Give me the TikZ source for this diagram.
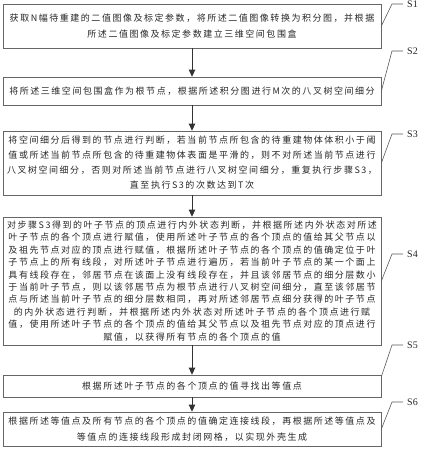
\documentclass[tikz,border=0pt]{standalone}
\usepackage{fontspec}
\setmainfont{Liberation Serif}
\newfontfamily\cjk[LetterSpace=17]{Noto Sans CJK SC}
\usetikzlibrary{arrows.meta}
\begin{document}
\begin{tikzpicture}[x=1pt,y=-1pt,
  stepbox/.style={draw=black!60, line width=0.7pt, minimum width=378pt, inner sep=0pt, align=center, text=black!85},
  flow/.style={-{Triangle[length=7pt,width=6.5pt]}, line width=0.9pt, draw=black!80},
  lead/.style={draw=black!65, line width=0.6pt},
  lab/.style={anchor=west, font=\fontsize{10}{12}\selectfont, inner sep=0pt, text=black!85}]
\useasboundingbox (0,0) rectangle (425,450);

\node[stepbox, minimum height=44pt, font=\cjk\fontsize{9}{16}\selectfont] (s1) at (192,26)
  {获取N幅待重建的二值图像及标定参数，将所述二值图像转换为积分图，并根据\\
   所述二值图像及标定参数建立三维空间包围盒};
\node[stepbox, minimum height=28pt, font=\cjk\fontsize{9}{14}\selectfont] (s2) at (192,91)
  {将所述三维空间包围盒作为根节点，根据所述积分图进行M次的八叉树空间细分};
\node[stepbox, minimum height=64pt, font=\cjk\fontsize{9}{15}\selectfont] (s3) at (192,163)
  {将空间细分后得到的节点进行判断，若当前节点所包含的待重建物体体积小于阈\\
   值或所述当前节点所包含的待重建物体表面是平滑的，则不对所述当前节点进行\\
   八叉树空间细分，否则对所述当前节点进行八叉树空间细分，重复执行步骤S3，\\
   直至执行S3的次数达到T次};
\node[stepbox, minimum height=128pt, font=\cjk\fontsize{9}{12.4}\selectfont] (s4) at (192,281)
  {对步骤S3得到的叶子节点的顶点进行内外状态判断，并根据所述内外状态对所述\\
   叶子节点的各个顶点进行赋值，使用所述叶子节点的各个顶点的值给其父节点以\\
   及祖先节点对应的顶点进行赋值，根据所述叶子节点的各个顶点的值确定位于叶\\
   子节点上的所有线段，对所述叶子节点进行遍历，若当前叶子节点的某一个面上\\
   具有线段存在，邻居节点在该面上没有线段存在，并且该邻居节点的细分层数小\\
   于当前叶子节点，则以该邻居节点为根节点进行八叉树空间细分，直至该邻居节\\
   点与所述当前叶子节点的细分层数相同，再对所述邻居节点细分获得的叶子节点\\
   的内外状态进行判断，并根据所述内外状态对所述叶子节点的各个顶点进行赋\\
   值，使用所述叶子节点的各个顶点的值给其父节点以及祖先节点对应的顶点进行\\
   赋值，以获得所有节点的各个顶点的值};
\node[stepbox, minimum height=22pt, font=\cjk\fontsize{9}{14}\selectfont] (s5) at (192,386)
  {根据所述叶子节点的各个顶点的值寻找出等值点};
\node[stepbox, minimum height=34pt, font=\cjk\fontsize{9}{16}\selectfont] (s6) at (192,429)
  {根据所述等值点及所有节点的各个顶点的值确定连接线段，再根据所述等值点及\\
   等值点的连接线段形成封闭网格，以实现外壳生成};

\draw[flow] (s1.south) -- (s2.north);
\draw[flow] (s2.south) -- (s3.north);
\draw[flow] (s3.south) -- (s4.north);
\draw[flow] (s4.south) -- (s5.north);
\draw[flow] (s5.south) -- (s6.north);

\node[lab] (t1) at (407,4) {S1};
\node[lab] (t2) at (407,51) {S2};
\node[lab] (t3) at (407,134) {S3};
\node[lab] (t4) at (407,254) {S4};
\node[lab] (t5) at (407,345) {S5};
\node[lab] (t6) at (407,402) {S6};

\coordinate (c1) at (392,4);
\coordinate (c2) at (392,51);
\coordinate (c3) at (392,134);
\coordinate (c4) at (392,254);
\coordinate (c5) at (392,345);
\coordinate (c6) at (392,402);

\draw[lead] (s1.east) -- (c1) -- ([xshift=-4pt]t1.west);
\draw[lead] (s2.east) -- (c2) -- ([xshift=-4pt]t2.west);
\draw[lead] (s3.east) -- (c3) -- ([xshift=-4pt]t3.west);
\draw[lead] (s4.east) -- (c4) -- ([xshift=-4pt]t4.west);
\draw[lead] ([yshift=-2pt]s5.north east) -- (c5) -- ([xshift=-4pt]t5.west);
\draw[lead] (s6.east) -- (c6) -- ([xshift=-4pt]t6.west);
\end{tikzpicture}
\end{document}
